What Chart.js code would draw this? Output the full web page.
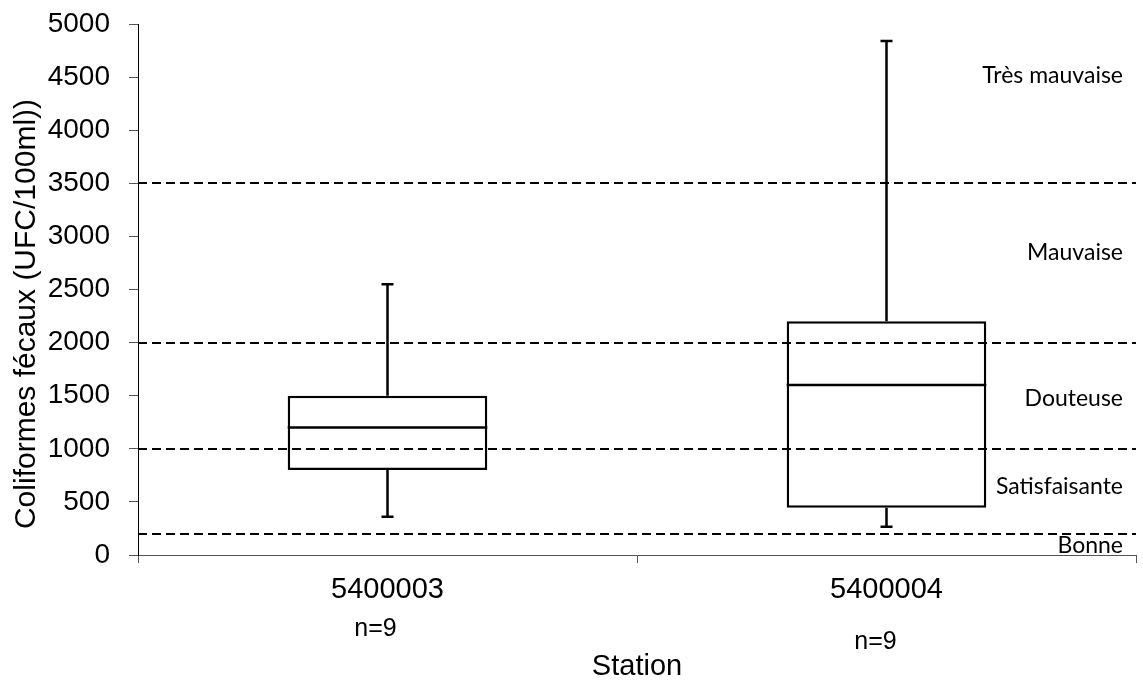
<!DOCTYPE html>
<html>
<head>
<meta charset="utf-8">
<script src="https://cdn.jsdelivr.net/npm/chart.js@4"></script>
<style>
html,body{margin:0;padding:0;background:#fff;}
#wrap{width:1143px;height:684px;}
</style>
</head>
<body>
<div id="wrap"><canvas id="c" width="1143" height="684"></canvas></div>
<script>
// ---- data ----
const stations = ['5400003', '5400004'];
const whiskerLow = [360, 265];
const q1 = [800, 445];
const median = [1200, 1600];
const q3 = [1500, 2200];
const whiskerHigh = [2550, 4840];
const counts = [9, 9];
const thresholds = [200, 1000, 2000, 3500];
const classLabels = ['Très mauvaise', 'Mauvaise', 'Douteuse', 'Satisfaisante', 'Bonne'];
const classLabelValues = [4447, 2778, 1403, 574, 19];
const yTitle = 'Coliformes fécaux (UFC/100ml))';
const xTitle = 'Station';

const AX_FONT = '"Liberation Sans", Arial, sans-serif';
const LBL_FONT = 'Lato, "Open Sans", sans-serif';

const boxPlugin = {
  id: 'boxExtras',
  afterDatasetsDraw(chart) {
    const ctx = chart.ctx;
    const xs = chart.scales.x, ys = chart.scales.y;
    const area = chart.chartArea;
    const meta = chart.getDatasetMeta(0);
    ctx.save();
    // whiskers and medians
    ctx.strokeStyle = '#000';
    ctx.lineWidth = 2.5;
    ctx.setLineDash([]);
    stations.forEach((s, i) => {
      const bar = meta.data[i];
      const x = xs.getPixelForValue(i);
      const half = bar.width / 2;
      const yLo = ys.getPixelForValue(whiskerLow[i]);
      const yQ1 = ys.getPixelForValue(q1[i]);
      const yMed = ys.getPixelForValue(median[i]);
      const yQ3 = ys.getPixelForValue(q3[i]);
      const yHi = ys.getPixelForValue(whiskerHigh[i]);
      ctx.beginPath();
      ctx.moveTo(x, yQ1); ctx.lineTo(x, yLo);
      ctx.moveTo(x - 6, yLo); ctx.lineTo(x + 6, yLo);
      ctx.moveTo(x, yQ3); ctx.lineTo(x, yHi);
      ctx.moveTo(x - 6, yHi); ctx.lineTo(x + 6, yHi);
      ctx.moveTo(bar.x - half, yMed); ctx.lineTo(bar.x + half, yMed);
      ctx.stroke();
    });
    // threshold dashed lines
    ctx.lineWidth = 2;
    ctx.setLineDash([9, 5]);
    thresholds.forEach(v => {
      const y = Math.round(ys.getPixelForValue(v));
      ctx.beginPath();
      ctx.moveTo(area.left, y);
      ctx.lineTo(area.right, y);
      ctx.stroke();
    });
    ctx.setLineDash([]);
    // class labels
    ctx.fillStyle = '#000';
    ctx.font = '23px ' + LBL_FONT;
    ctx.textAlign = 'right';
    ctx.textBaseline = 'alphabetic';
    classLabels.forEach((t, i) => {
      ctx.fillText(t, area.right - 13, ys.getPixelForValue(classLabelValues[i]));
    });
    // n= labels
    ctx.font = '25px ' + AX_FONT;
    ctx.textAlign = 'center';
    ctx.textBaseline = 'middle';
    const nOff = [[-12, 74], [-11, 87]];
    counts.forEach((n, i) => {
      const x = xs.getPixelForValue(i);
      ctx.fillText('n=' + n, x + nOff[i][0], area.bottom + nOff[i][1]);
    });
    // axis titles
    ctx.font = '29px ' + AX_FONT;
    ctx.fillText(xTitle, (area.left + area.right) / 2, 667);
    ctx.save();
    ctx.translate(27, 314);
    ctx.rotate(-Math.PI / 2);
    ctx.font = '30px ' + AX_FONT;
    ctx.fillText(yTitle, 0, 0);
    ctx.restore();
    ctx.restore();
  }
};

new Chart(document.getElementById('c').getContext('2d'), {
  type: 'bar',
  data: {
    labels: stations,
    datasets: [{
      data: stations.map((s, i) => [q1[i], q3[i]]),
      backgroundColor: '#fff',
      borderColor: '#000',
      borderWidth: 2.5,
      borderSkipped: false,
      barPercentage: 0.4,
      categoryPercentage: 1
    }]
  },
  options: {
    responsive: false,
    devicePixelRatio: 1,
    animation: false,
    layout: { padding: { top: 24, right: 7, left: 0, bottom: 0 } },
    plugins: { legend: { display: false }, tooltip: { enabled: false } },
    scales: {
      x: {
        afterFit(s) { s.height = 129; s.paddingLeft = 0; s.paddingRight = 0; },
        offset: true,
        grid: { drawOnChartArea: false, tickLength: 8, color: '#555', offset: true },
        border: { color: '#555', width: 1 },
        ticks: { font: { family: AX_FONT, size: 29 }, color: '#000', padding: 10 }
      },
      y: {
        min: 0, max: 5000,
        afterFit(s) { s.width = 138; s.paddingTop = 0; s.paddingBottom = 0; },
        ticks: { stepSize: 500, font: { family: AX_FONT, size: 28 }, color: '#000', padding: 19,
                 callback: v => String(v) },
        grid: { drawOnChartArea: false, tickLength: 9, color: '#555' },
        border: { color: '#000', width: 1 }
      }
    }
  },
  plugins: [boxPlugin]
});
</script>
</body>
</html>
